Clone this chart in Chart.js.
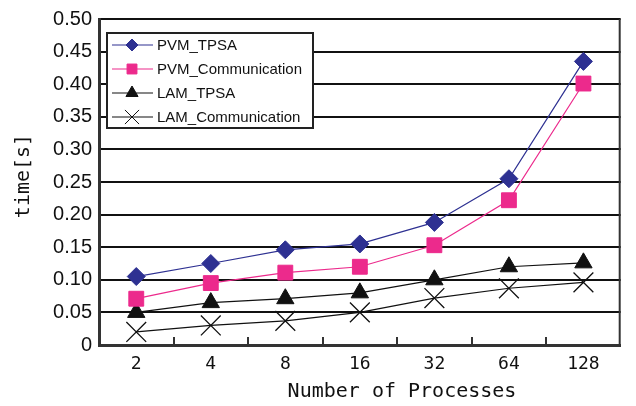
<!DOCTYPE html>
<html>
<head>
<meta charset="utf-8">
<script src="https://cdn.jsdelivr.net/npm/chart.js@4/dist/chart.umd.min.js"></script>
<style>
  html, body { margin: 0; padding: 0; background: #fff; }
  #wrap { width: 636px; height: 406px; }
</style>
</head>
<body>
<div id="wrap"><canvas id="myChart" width="636" height="406"></canvas></div>
<script>
// Chart data
const processes = ["2", "4", "8", "16", "32", "64", "128"];
const pvmTpsa = [0.105, 0.125, 0.146, 0.155, 0.188, 0.255, 0.435];
const pvmComm = [0.071, 0.095, 0.111, 0.120, 0.153, 0.222, 0.401];
const lamTpsa = [0.050, 0.065, 0.071, 0.080, 0.100, 0.120, 0.126];
const lamComm = [0.020, 0.030, 0.037, 0.050, 0.072, 0.087, 0.096];
const yTicks = [0, 0.05, 0.10, 0.15, 0.20, 0.25, 0.30, 0.35, 0.40, 0.45, 0.50];

const BLUE = "#2e3192";
const PINK = "#ec2a8c";
const BLACK = "#111";
const GOTHIC = "'DejaVu Sans Mono', monospace";

// Small inward ticks at category boundaries, right border, axis titles
const framePlugin = {
  id: "frame",
  afterDraw(chart) {
    const c = chart.ctx, a = chart.chartArea, x = chart.scales.x;
    c.save();
    c.strokeStyle = "#333";
    c.lineWidth = 2;
    for (let i = 0; i < processes.length - 1; i++) {
      const px = Math.round((x.getPixelForTick(i) + x.getPixelForTick(i + 1)) / 2);
      c.beginPath();
      c.moveTo(px, a.bottom);
      c.lineTo(px, a.bottom - 8);
      c.stroke();
    }
    c.beginPath();
    c.moveTo(a.right - 1, a.top);
    c.lineTo(a.right - 1, a.bottom);
    c.stroke();

    // axis titles (the x title sits a bit right of centre in the original)
    c.fillStyle = "#111";
    c.textAlign = "center";
    c.textBaseline = "middle";
    c.font = "20px " + GOTHIC;
    c.fillText("Number of Processes", 402, 392);
    c.translate(24, 176);
    c.rotate(-Math.PI / 2);
    c.font = "20px " + GOTHIC;
    c.fillText("time[s]", 0, 0);
    c.restore();
  }
};

// Legend box drawn inside the plot area
const legendBox = {
  id: "legendBox",
  afterDraw(chart) {
    const c = chart.ctx;
    const bx = 107, by = 33, bw = 206, bh = 95;
    c.save();
    c.fillStyle = "#fff";
    c.fillRect(bx, by, bw, bh);
    c.strokeStyle = "#222";
    c.lineWidth = 2;
    c.strokeRect(bx, by, bw, bh);
    chart.data.datasets.forEach((ds, i) => {
      const y = 45 + i * 24;
      c.strokeStyle = ds.borderColor;
      c.lineWidth = 1.2;
      c.beginPath();
      c.moveTo(112, y);
      c.lineTo(153, y);
      c.stroke();
      c.fillStyle = ds.pointBackgroundColor;
      c.strokeStyle = ds.pointBorderColor;
      c.lineWidth = 1;
      Chart.helpers.drawPoint(c, { pointStyle: ds.pointStyle, radius: ds.legendRadius, borderWidth: 1 }, 132, y);
      c.fillStyle = "#111";
      c.font = "15px 'Liberation Sans', Arial, sans-serif";
      c.textAlign = "left";
      c.textBaseline = "middle";
      c.fillText(ds.label, 157, y + 1);
    });
    c.restore();
  }
};

function series(label, data, color, style, radius, legendRadius) {
  return {
    label: label,
    data: data,
    borderColor: color,
    borderWidth: 1.2,
    pointStyle: style,
    pointRadius: radius,
    pointHoverRadius: radius,
    legendRadius: legendRadius,
    pointBackgroundColor: color,
    pointBorderColor: color,
    pointBorderWidth: style === "crossRot" ? 1.3 : 1,
    tension: 0,
    fill: false
  };
}

const ctx = document.getElementById("myChart").getContext("2d");
const myChart = new Chart(ctx, {
  type: "line",
  data: {
    labels: processes,
    datasets: [
      series("PVM_TPSA", pvmTpsa, BLUE, "rectRot", 9, 6),
      series("PVM_Communication", pvmComm, PINK, "rect", 10.5, 7),
      series("LAM_TPSA", lamTpsa, BLACK, "triangle", 10, 7),
      series("LAM_Communication", lamComm, BLACK, "crossRot", 14, 10)
    ]
  },
  options: {
    responsive: false,
    animation: false,
    layout: { padding: { top: 12, right: 3, left: 0, bottom: 0 } },
    plugins: { legend: { display: false }, tooltip: { enabled: false } },
    scales: {
      x: {
        offset: true,
        afterFit: (s) => { s.height = 61; },
        grid: { display: false, drawTicks: false },
        border: { color: "#333", width: 3 },
        ticks: { padding: 9, color: "#111", font: { family: GOTHIC, size: 18 } }
      },
      y: {
        min: 0,
        max: 0.5,
        afterFit: (s) => { s.width = 99; },
        afterBuildTicks: (s) => { s.ticks = yTicks.map((v) => ({ value: v })); },
        grid: { color: "#111", lineWidth: 2, drawTicks: false },
        border: { color: "#333", width: 3 },
        ticks: {
          padding: 7,
          color: "#111",
          font: { family: "'Liberation Sans', Arial, sans-serif", size: 20 },
          callback: (v) => (v === 0 ? "0" : v.toFixed(2))
        }
      }
    }
  },
  plugins: [framePlugin, legendBox]
});
</script>
</body>
</html>
